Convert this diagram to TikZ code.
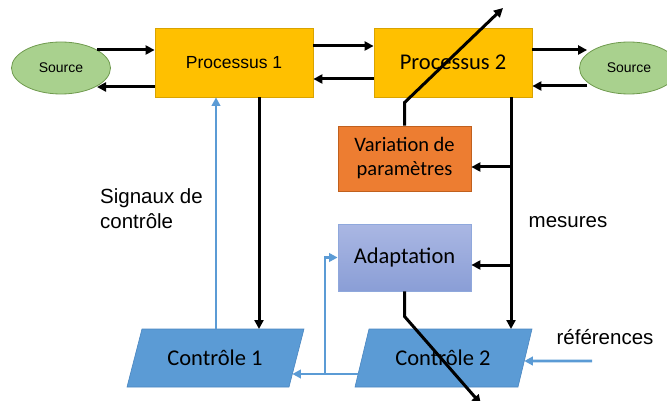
\documentclass[tikz,border=0pt]{standalone}
\usepackage{fontspec}
\setmainfont{Liberation Sans}
\newfontfamily\calfont{Carlito}
\usetikzlibrary{arrows.meta,shapes.geometric,calc}
\definecolor{pyellow}{HTML}{FFC000}
\definecolor{pyellowd}{HTML}{D9A300}
\definecolor{porange}{HTML}{ED7D31}
\definecolor{porangeD}{HTML}{C0601E}
\definecolor{pgreen}{HTML}{A9D18E}
\definecolor{pgreenD}{HTML}{6F9A4E}
\definecolor{pblue}{HTML}{5B9BD5}
\definecolor{pblueD}{HTML}{4A86C0}
\definecolor{adtop}{HTML}{AAB7E3}
\definecolor{adbot}{HTML}{8A9ED6}
\definecolor{adbord}{HTML}{8FA8DC}
\begin{document}
\begin{tikzpicture}[x=1pt,y=1pt,
  srcell/.style={ellipse,draw=pgreenD,fill=pgreen,line width=0.8pt,minimum width=99pt,minimum height=52pt,inner sep=0pt,font=\fontsize{14}{16}\selectfont},
  procbox/.style={draw=pyellowd,fill=pyellow,line width=0.8pt,minimum width=158pt,minimum height=69pt,inner sep=0pt},
  blk/.style={line width=3pt,black,-{Triangle[length=9pt,width=9pt]}},
  blu/.style={line width=2.8pt,pblue,-{Triangle[length=8.5pt,width=8.5pt]}},
  para/.style={draw=pblueD,fill=pblue,line width=0.6pt},
  lab/.style={inner sep=0pt,font=\fontsize{20.5}{25}\selectfont}
]
\useasboundingbox (0,0) rectangle (667,-401);

% nodes
\node[srcell] (srcL) at (61,-68) {Source};
\node[srcell] (srcR) at (629,-68) {Source};
\node[procbox,font=\fontsize{17.5}{20}\selectfont] (P1) at (234,-62.5) {Processus 1};
\node[procbox,font=\calfont\fontsize{22.5}{26}\selectfont] (P2) at (453,-62.5) {Processus 2};
\node[draw=porangeD,fill=porange,line width=0.8pt,minimum width=133pt,minimum height=65pt,inner sep=0pt,align=center,font=\calfont\fontsize{20.5}{24}\selectfont] (VP) at (404.5,-158.5) {Variation de\\paramètres};
\node[draw=adbord,top color=adtop,bottom color=adbot,line width=0.8pt,minimum width=133pt,minimum height=67pt,inner sep=0pt,font=\calfont\fontsize{22.5}{26}\selectfont] (AD) at (404.5,-257.5) {Adaptation};

% parallelograms
\coordinate (c1bl) at (127,-387); \coordinate (c1tl) at (142,-329);
\coordinate (c1tr) at (304,-329); \coordinate (c1br) at (289,-387);
\coordinate (c2bl) at (355,-387); \coordinate (c2tl) at (369,-329);
\coordinate (c2tr) at (532,-329); \coordinate (c2br) at (518,-387);
\draw[para] (c1bl) -- (c1tl) -- (c1tr) -- (c1br) -- cycle;
\draw[para] (c2bl) -- (c2tl) -- (c2tr) -- (c2br) -- cycle;
\node[inner sep=0pt,font=\calfont\fontsize{22.5}{26}\selectfont] (C1) at (215,-358) {Contrôle 1};
\node[inner sep=0pt,font=\calfont\fontsize{22.5}{26}\selectfont] (C2) at (443,-358) {Contrôle 2};

% labels
\node[lab,anchor=west,align=left] (sig) at (100,-209) {Signaux de\\contrôle};
\node[lab] (mes) at (568,-222) {mesures};
\node[lab] (ref) at (605,-337) {références};

% top horizontal arrows
\coordinate (sLa) at ([xshift=36pt,yshift=18pt]srcL.center);
\coordinate (sLb) at ([xshift=36pt,yshift=-19pt]srcL.center);
\draw[blk] (sLa) -- (sLa -| P1.west);
\draw[blk] (sLb -| P1.west) -- (sLb);
\draw[blk] ([yshift=16.5pt]P1.east) -- ([yshift=16.5pt]P1.east -| P2.west);
\draw[blk] ([yshift=-16.5pt]P2.west) -- ([yshift=-16.5pt]P2.west -| P1.east);
\coordinate (sRa) at ([xshift=8pt,yshift=18pt]srcR.west);
\coordinate (sRb) at ([xshift=8pt,yshift=-18pt]srcR.west);
\draw[blk] (sRa -| P2.east) -- (sRa);
\draw[blk] (sRb) -- (sRb -| P2.east);

% P1 <-> Controle 1
\draw[blk] ([xshift=25pt]P1.south) -- ([xshift=25pt]P1.south |- c1tl);
\draw[blu] ([xshift=-18pt]P1.south |- c1tl) -- ([xshift=-18pt]P1.south);

% mesures line
\coordinate (mtop) at ([xshift=58pt]P2.south);
\draw[blk] (mtop) -- (mtop |- c2tl);
\draw[blk] ([yshift=-8.5pt]VP.east -| mtop) -- ([yshift=-8.5pt]VP.east);
\draw[blk] ([yshift=-7.5pt]AD.east -| mtop) -- ([yshift=-7.5pt]AD.east);

% variation diagonal arrow
\coordinate (vbend) at ([yshift=23pt]VP.north);
\coordinate (vtip) at (503,-8);
\draw[blk] (VP.north) -- (vbend) -- (vtip);

% adaptation diagonal arrow
\coordinate (abend) at ([yshift=-25pt]AD.south);
\coordinate (atip) at (481,-404);
\draw[blk] (AD.south) -- (abend) -- (atip);

% blue controle 2 -> controle 1 and adaptation
\coordinate (c2l) at ($(c2bl)!0.224!(c2tl)$);
\coordinate (c1r) at ($(c1br)!0.224!(c1tr)$);
\draw[blu] (c2l) -- (c1r);
\coordinate (brx) at (325,-374);
\draw[blu] (brx) -- (brx |- AD.west) -- (AD.west);

% references
\coordinate (c2r) at ($(c2br)!0.448!(c2tr)$);
\coordinate (refstart) at (592,-361);
\draw[blu] (refstart) -- (c2r);
\end{tikzpicture}
\end{document}
